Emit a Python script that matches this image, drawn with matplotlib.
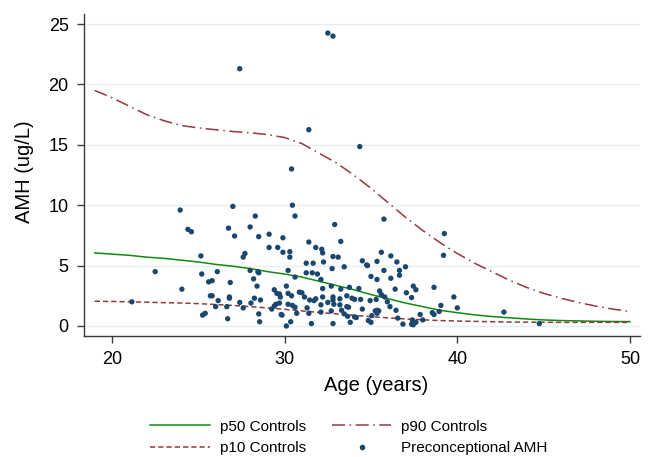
import matplotlib
matplotlib.use("Agg")
import matplotlib.pyplot as plt
from matplotlib.lines import Line2D

# ---- curve data (age in years, AMH ug/L) ----
curve_age = [19, 20, 21, 22, 23, 24, 25, 26, 27, 28, 29, 30, 31, 32, 33, 34,
             35, 36, 37, 38, 39, 40, 41, 42, 43, 44, 45, 46, 47, 48, 49, 50]
p50 = [6.05, 5.95, 5.85, 5.7, 5.6, 5.45, 5.3, 5.1, 4.95, 4.75, 4.5, 4.3, 4.05,
       3.7, 3.35, 3.0, 2.6, 2.25, 1.9, 1.6, 1.3, 1.1, 0.92, 0.78, 0.68, 0.58,
       0.5, 0.45, 0.42, 0.39, 0.37, 0.36]
p90 = [19.5, 18.9, 18.2, 17.5, 17.0, 16.6, 16.4, 16.25, 16.1, 16.0, 15.85, 15.6,
       15.1, 14.3, 13.5, 12.5, 11.4, 10.2, 9.0, 7.9, 6.9, 6.0, 5.2, 4.5, 3.8,
       3.2, 2.7, 2.3, 1.95, 1.65, 1.4, 1.2]
p10 = [2.05, 2.03, 2.0, 1.97, 1.93, 1.9, 1.85, 1.78, 1.7, 1.6, 1.5, 1.38, 1.25,
       1.12, 1.0, 0.88, 0.77, 0.67, 0.58, 0.51, 0.45, 0.41, 0.38, 0.35, 0.33,
       0.32, 0.31, 0.3, 0.3, 0.3, 0.3, 0.3]

# ---- preconceptional AMH observations ----
obs_age = [21.15, 22.5, 23.95, 24.05, 24.4, 24.6, 25.15, 25.2, 25.25, 25.4,
           25.6, 25.8, 25.7, 25.8, 26.0, 26.1, 26.15, 26.65, 26.75, 26.8,
           26.8, 26.7, 26.85, 27.0, 27.1, 27.4, 27.6, 27.7, 27.6, 27.4,
           28.0, 28.0, 28.05, 28.2, 28.25, 28.3, 28.4, 28.45, 28.5, 28.5,
           28.5, 28.55, 28.6, 29.1, 29.1, 29.6, 29.9, 29.9, 30.3, 30.3,
           31.4, 31.25, 31.65, 31.25, 31.6, 30.2, 30.6, 30.1, 29.4, 29.55,
           29.7, 29.75, 30.2, 30.4, 30.85, 31.0, 31.15, 31.45, 31.7, 29.7,
           30.2, 30.45, 30.6, 29.5, 29.4, 29.25, 31.3, 29.8, 29.85, 30.7,
           31.4, 30.35, 30.1, 31.55, 30.45, 30.6, 30.4, 31.4, 32.5, 32.8,
           34.35, 32.9, 33.25, 31.8, 32.15, 32.2, 32.8, 33.1, 32.25, 33.45,
           32.75, 34.5, 34.75, 34.8, 31.9, 32.1, 32.7, 33.25, 33.75, 34.3,
           32.2, 31.8, 32.2, 32.5, 32.8, 32.8, 33.2, 33.6, 33.9, 34.05,
           34.4, 32.1, 32.85, 33.2, 33.6, 33.7, 32.1, 32.7, 33.3, 33.45,
           33.65, 34.05, 34.15, 33.8, 32.8, 34.85, 34.5, 35.75, 35.6, 35.35,
           36.15, 36.5, 35.75, 36.65, 37.0, 36.65, 35.0, 35.35, 36.15, 37.45,
           37.6, 36.4, 35.5, 35.6, 37.05, 37.35, 35.8, 35.3, 34.95, 35.95,
           36.1, 36.45, 35.25, 35.35, 35.45, 35.35, 35.05, 36.55, 35.0, 36.85,
           37.4, 37.35, 37.45, 37.6, 37.85, 38.0, 39.25, 39.2, 38.65, 39.8,
           39.05, 40.0, 38.55, 38.65, 38.95, 42.7, 44.75]
obs_amh = [2.0, 4.5, 9.6, 3.05, 8.0, 7.8, 5.8, 4.3, 0.9, 1.05,
           3.65, 3.75, 2.5, 2.5, 1.6, 4.5, 2.1, 1.6, 8.1, 2.4,
           2.3, 0.6, 3.6, 9.9, 7.45, 1.95, 5.7, 6.0, 1.5, 21.3,
           8.2, 4.6, 1.9, 3.9, 2.3, 9.1, 3.3, 4.5, 4.4, 7.4,
           1.0, 0.35, 2.15, 7.6, 6.5, 6.5, 6.1, 7.3, 6.15, 5.7,
           6.95, 5.2, 5.2, 4.4, 4.4, 4.6, 4.05, 3.3, 3.0, 2.7,
           2.65, 2.4, 2.7, 2.5, 2.8, 2.75, 2.4, 2.15, 2.1, 1.9,
           1.8, 1.7, 1.55, 1.8, 1.65, 1.4, 1.5, 0.95, 0.9, 1.05,
           1.05, 0.35, 0.0, 0.2, 10.0, 9.1, 13.0, 16.25, 24.25, 24.0,
           14.85, 8.4, 7.0, 6.5, 6.35, 6.05, 5.75, 5.7, 5.3, 4.9,
           4.75, 5.4, 5.05, 5.0, 4.3, 3.85, 3.3, 3.05, 3.2, 3.1,
           3.1, 2.25, 2.4, 1.95, 2.4, 2.15, 2.25, 2.5, 2.3, 2.2,
           2.2, 1.75, 1.8, 1.75, 1.6, 1.55, 1.15, 1.25, 1.3, 1.0,
           0.8, 0.75, 0.7, 0.3, 0.2, 0.45, 1.4, 8.85, 6.1, 5.35,
           5.8, 5.3, 4.6, 4.6, 4.9, 4.2, 4.1, 3.85, 3.95, 3.3,
           3.0, 3.05, 2.9, 2.6, 2.75, 2.35, 2.4, 2.2, 2.1, 2.0,
           1.6, 1.3, 1.25, 1.3, 1.25, 1.05, 0.85, 0.65, 0.3, 0.15,
           0.5, 0.15, 0.1, 0.3, 0.95, 0.5, 7.65, 5.85, 3.2, 2.4,
           1.7, 1.5, 1.1, 0.95, 1.2, 1.15, 0.2]

x_ticks = [20, 30, 40, 50]
y_ticks = [0, 5, 10, 15, 20, 25]
labels = ["p50 Controls", "p10 Controls", "p90 Controls", "Preconceptional AMH"]

plt.rcParams['font.family'] = ['Liberation Sans', 'DejaVu Sans']

GREEN = "#118a11"
MAROON = "#95383d"
NAVY = "#1a476f"
GRID = "#e6eef1"
AXC = "#3a3a3a"

fig = plt.figure(figsize=(6.54, 4.57), dpi=100)
ax = fig.add_axes([84/654, 1-336/457, (640-84)/654, (336-14)/457])

ax.set_xlim(18.38, 50.58)
ax.set_ylim(-0.83, 25.83)

for yv in y_ticks:
    ax.axhline(yv, color=GRID, lw=1.0, zorder=0)

l50, = ax.plot(curve_age, p50, color=GREEN, lw=1.1, zorder=3)
l10, = ax.plot(curve_age, p10, color=MAROON, lw=1.1, dashes=(3.4, 2.0), zorder=3)
l90, = ax.plot(curve_age, p90, color=MAROON, lw=1.1, dashes=(8.5, 3, 1, 3), zorder=3)
sc = ax.scatter(obs_age, obs_amh, s=15, color=NAVY, edgecolors='none', zorder=4)

ax.set_xticks(x_ticks)
ax.set_yticks(y_ticks)
ax.tick_params(axis='both', direction='out', length=5, width=1, color=AXC,
               labelsize=13, labelcolor='black')
ax.tick_params(axis='y', pad=6)
ax.tick_params(axis='x', pad=6)

for s in ['top', 'right']:
    ax.spines[s].set_visible(False)
for s in ['left', 'bottom']:
    ax.spines[s].set_color(AXC)
    ax.spines[s].set_linewidth(1.0)

ax.set_ylabel("AMH (ug/L)", fontsize=14.5)
ax.yaxis.set_label_coords(-0.090, 0.509)
ax.set_xlabel("Age (years)", fontsize=14.5)
ax.xaxis.set_label_coords(0.525, -0.125)

h_dot = Line2D([], [], color=NAVY, marker='o', markersize=3, linestyle='none')
fig.legend([l50, l10, l90, h_dot], labels, ncol=2, frameon=False,
           fontsize=11, handlelength=3.9, handletextpad=0.65,
           columnspacing=1.7, labelspacing=0.5,
           loc='center', bbox_to_anchor=(349/654, 1-437.5/457))

fig.savefig("out.png", dpi=100)
